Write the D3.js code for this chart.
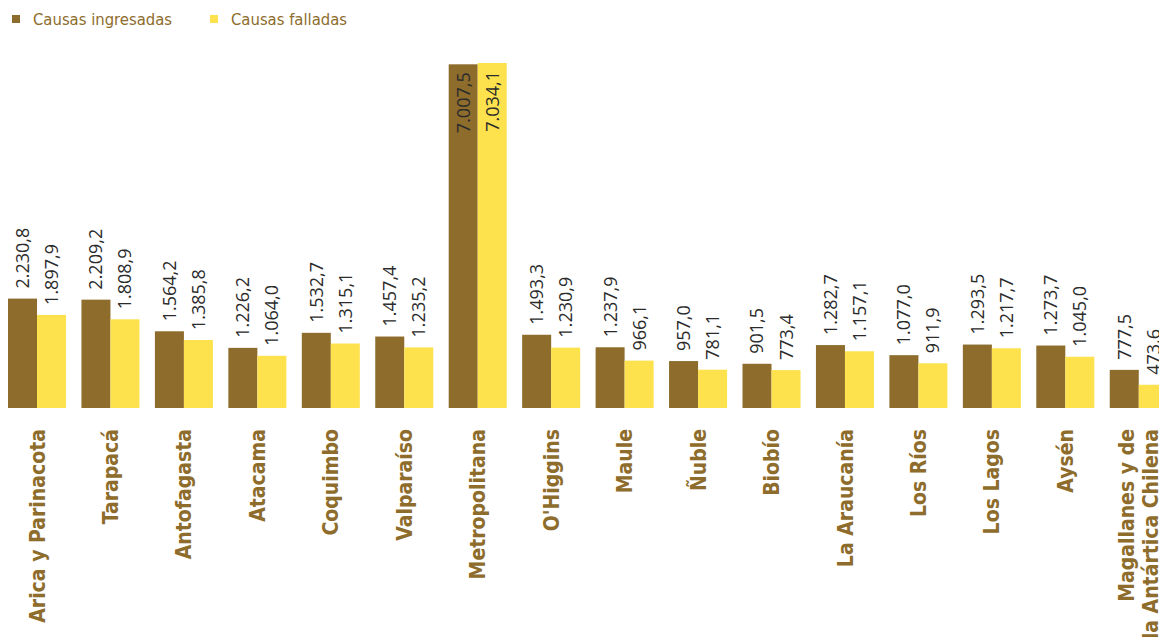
<!DOCTYPE html>
<html>
<head>
<meta charset="utf-8">
<script src="https://cdn.jsdelivr.net/npm/d3@7"></script>
<style>
  body { margin: 0; background: #fff; }
  svg { display: block; }
</style>
</head>
<body>
<svg id="chart" width="1159" height="637"></svg>
<script>
// regions, in chart order (two-line label split with "|")
var regions = ["Arica y Parinacota", "Tarapacá", "Antofagasta", "Atacama", "Coquimbo", "Valparaíso",
  "Metropolitana", "O'Higgins", "Maule", "Ñuble", "Biobío", "La Araucanía", "Los Ríos", "Los Lagos",
  "Aysén", "Magallanes y de|la Antártica Chilena"];
var ingresadas = [2230.8, 2209.2, 1564.2, 1226.2, 1532.7, 1457.4, 7007.5, 1493.3, 1237.9, 957.0,
  901.5, 1282.7, 1077.0, 1293.5, 1273.7, 777.5];
var falladas = [1897.9, 1808.9, 1385.8, 1064.0, 1315.1, 1235.2, 7034.1, 1230.9, 966.1, 781.1,
  773.4, 1157.1, 911.9, 1217.7, 1045.0, 473.6];
var seriesNames = ["Causas ingresadas", "Causas falladas"];
var colors = ["#8d6c2c", "#fde24e"];

var svg = d3.select("#chart");
var baseY = 408;

// x scale for regions, inner scale for the two series
var x0 = d3.scaleBand()
    .domain(regions)
    .range([8, 8 + 73.45 * (16 - 0.21)])
    .paddingInner(0.21)
    .paddingOuter(0);
var x1 = d3.scaleBand()
    .domain([0, 1])
    .range([0, x0.bandwidth()]);

var y = d3.scaleLinear()
    .domain([0, 7034.1])
    .range([baseY, 63]);

var fmt = function(v) {
    // spanish style: 7.034,1
    var s = v.toFixed(1).split(".");
    var intPart = s[0].replace(/\B(?=(\d{3})+(?!\d))/g, ".");
    return intPart + "," + s[1];
};

var rows = regions.map(function(r, i) {
    return {region: r, values: [ingresadas[i], falladas[i]]};
});

var groups = svg.selectAll("g.group")
    .data(rows)
    .enter().append("g")
    .attr("class", "group")
    .attr("transform", d => `translate(${x0(d.region)},0)`);

groups.selectAll("rect")
    .data(d => d.values.map((v, k) => ({k: k, v: v})))
    .enter().append("rect")
    .attr("x", d => x1(d.k))
    .attr("y", d => y(d.v))
    .attr("width", x1.bandwidth())
    .attr("height", d => baseY - y(d.v))
    .attr("fill", d => colors[d.k]);

// value labels, rotated; placed inside the bar when it is too tall
groups.selectAll("text.val")
    .data(d => d.values.map((v, k) => ({k: k, v: v})))
    .enter().append("text")
    .attr("class", "val")
    .attr("transform", d => {
        var cx = x1(d.k) + x1.bandwidth() / 2;
        var inside = d.v > 5000;
        var yy = inside ? y(d.v) + 8 : y(d.v) - 10;
        return `translate(${cx},${yy}) rotate(-90)`;
    })
    .attr("text-anchor", d => d.v > 5000 ? "end" : "start")
    .attr("dy", "0.36em")
    .style("font-family", "'Open Sans', sans-serif")
    .style("font-size", "18px")
    .style("fill", "#2b2b2b")
    .text(d => fmt(d.v));

// category labels
var cat = groups.append("text")
    .attr("transform", `translate(${x0.bandwidth() / 2},429) rotate(-90)`)
    .attr("text-anchor", "end")
    .style("font-family", "'DejaVu Sans Condensed', sans-serif")
    .style("font-weight", "bold")
    .style("font-size", "21px")
    .style("fill", "#8d6c2c");
cat.each(function(d) {
    var lines = d.region.split("|");
    var t = d3.select(this);
    lines.forEach(function(line, i) {
        t.append("tspan")
            .attr("x", 0)
            .attr("y", (i - (lines.length - 1) / 2) * 24)
            .attr("dy", "0.36em")
            .text(line);
    });
});

// legend
var legend = svg.append("g");
var legendX = [12, 210];
seriesNames.forEach(function(name, i) {
    legend.append("rect")
        .attr("x", legendX[i])
        .attr("y", 15)
        .attr("width", 8)
        .attr("height", 8)
        .attr("fill", colors[i]);
    legend.append("text")
        .attr("x", legendX[i] + 21)
        .attr("y", 19)
        .attr("dy", "0.36em")
        .style("font-family", "'DejaVu Sans Condensed', sans-serif")
        .style("font-size", "16.5px")
        .style("fill", "#8d6c2c")
        .text(name);
});
</script>
</body>
</html>
